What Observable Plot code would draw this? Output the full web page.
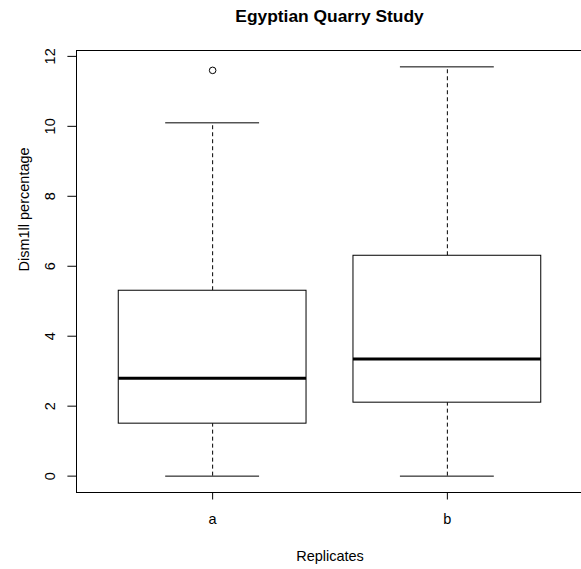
<!DOCTYPE html>
<html>
<head>
<meta charset="utf-8">
<script src="https://cdn.jsdelivr.net/npm/d3@7"></script>
<script src="https://cdn.jsdelivr.net/npm/@observablehq/plot@0.6"></script>
<style>
  html, body { margin: 0; padding: 0; background: #fff; }
  #wrap { position: relative; width: 581px; height: 569px; overflow: hidden; }
  #title { position: absolute; top: 6px; left: 76px; width: 507px; text-align: center;
           font-family: "Liberation Sans", Arial, sans-serif; font-weight: bold; font-size: 17.4px; color: #000; }
  #chart { position: absolute; top: 0; left: 0; }
</style>
</head>
<body>
<div id="wrap">
  <div id="title">Egyptian Quarry Study</div>
  <div id="chart"></div>
</div>
<script>
const categories = ["a", "b"];
const lowerWhisker = [0, 0];
const q1 = [1.5, 2.1];
const median = [2.8, 3.35];
const q3 = [5.3, 6.3];
const upperWhisker = [10.1, 11.7];
const outliers = [{group: "a", value: 11.6}];
const yTicks = [0, 2, 4, 6, 8, 10, 12];

const boxes = categories.map((c, i) => ({
  group: c, pos: i + 1,
  lo: lowerWhisker[i], q1: q1[i], med: median[i], q3: q3[i], hi: upperWhisker[i]
}));
const posOf = Object.fromEntries(categories.map((c, i) => [c, i + 1]));
const outs = outliers.map(o => ({pos: posOf[o.group], value: o.value}));

const halfBox = 0.4, halfCap = 0.2;

const chart = Plot.plot({
  width: 581,
  height: 569,
  marginLeft: 76,
  marginRight: -2,
  marginTop: 50,
  marginBottom: 77,
  style: {fontFamily: "'Liberation Sans', Arial, sans-serif", fontSize: "14.5px", color: "#000", background: "transparent", overflow: "visible"},
  x: {domain: [0.42, 2.58], axis: null},
  y: {domain: [-0.468, 12.168], axis: null},
  marks: [
    Plot.ruleX(boxes, {x: "pos", y1: "q3", y2: "hi", stroke: "#000", strokeWidth: 1, strokeDasharray: "4,3"}),
    Plot.ruleX(boxes, {x: "pos", y1: "lo", y2: "q1", stroke: "#000", strokeWidth: 1, strokeDasharray: "4,3"}),
    Plot.ruleY(boxes, {y: "hi", x1: d => d.pos - halfCap, x2: d => d.pos + halfCap, stroke: "#000", strokeWidth: 1}),
    Plot.ruleY(boxes, {y: "lo", x1: d => d.pos - halfCap, x2: d => d.pos + halfCap, stroke: "#000", strokeWidth: 1}),
    Plot.rect(boxes, {x1: d => d.pos - halfBox, x2: d => d.pos + halfBox, y1: "q1", y2: "q3", fill: "white", stroke: "#000", strokeWidth: 1}),
    Plot.ruleY(boxes, {y: "med", x1: d => d.pos - halfBox, x2: d => d.pos + halfBox, stroke: "#000", strokeWidth: 3}),
    Plot.dot(outs, {x: "pos", y: "value", r: 3.3, stroke: "#000", fill: "none", strokeWidth: 1}),
    Plot.frame({stroke: "#000", strokeWidth: 1}),
    Plot.axisY({ticks: yTicks, tickSize: 8.6, tickPadding: 13, tickRotate: -90, label: null, fontSize: 14.5, tickFormat: d => String(d)}),
    Plot.axisX({ticks: [1, 2], tickSize: 7.5, tickPadding: 14, fontSize: 14.5, tickFormat: d => categories[d - 1], label: null}),
    Plot.text(["Replicates"], {frameAnchor: "bottom", dy: 68, text: d => d, fontSize: 14.5}),
    Plot.text(["Dism1ll percentage"], {frameAnchor: "left", dx: -52, rotate: -90, text: d => d, fontSize: 14.5})
  ]
});
document.getElementById("chart").appendChild(chart);
</script>
</body>
</html>
